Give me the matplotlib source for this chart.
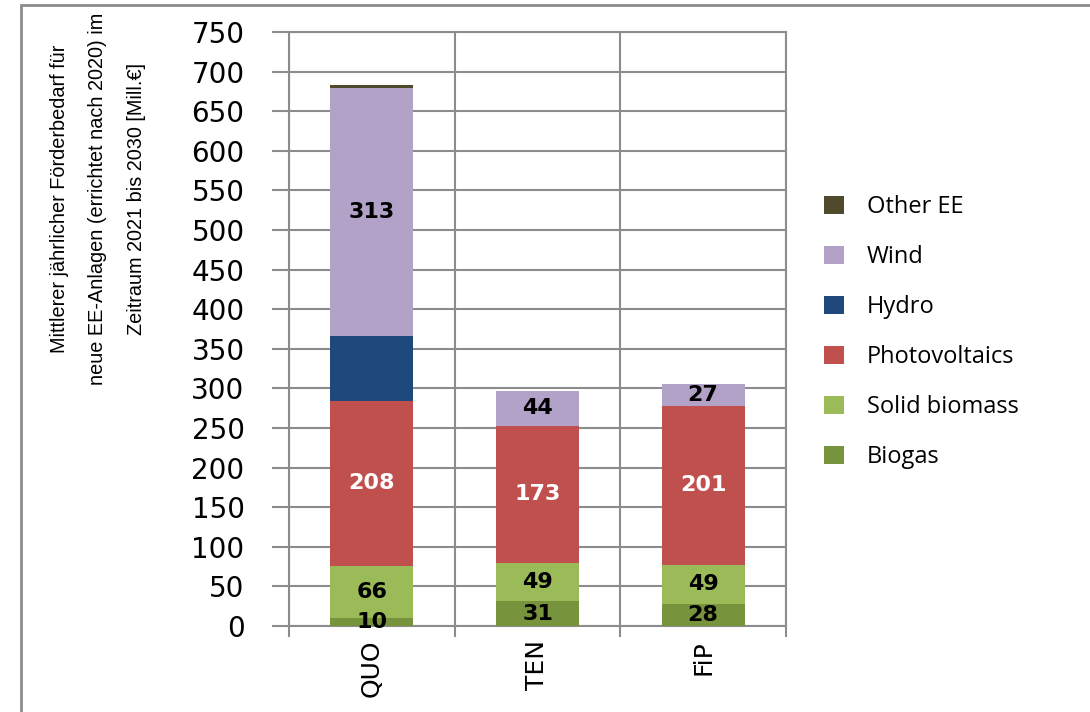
import numpy as np
import matplotlib
matplotlib.use("Agg")
from matplotlib import pyplot as plt
from matplotlib import font_manager
from matplotlib.patches import Rectangle

# scenarios and yearly support demand per technology [Mill. EUR]
scenarios = ["QUO", "TEN", "FiP"]
technologies = ["Biogas", "Solid biomass", "Photovoltaics", "Hydro", "Wind", "Other EE"]
biogas = [10, 31, 28]
solid_biomass = [66, 49, 49]
photovoltaics = [208, 173, 201]
hydro = [82, 0, 0]
wind = [313, 44, 27]
other_ee = [4, 0, 0]
# segments that carry a value label
labelled = ["Biogas", "Solid biomass", "Photovoltaics", "Wind"]

colors = {
    "Biogas": "#77933C",
    "Solid biomass": "#9BBB59",
    "Photovoltaics": "#C0504D",
    "Hydro": "#1F497D",
    "Wind": "#B3A2C7",
    "Other EE": "#4F4A2C",
}
label_colors = {"Photovoltaics": "white"}

series = [biogas, solid_biomass, photovoltaics, hydro, wind, other_ee]

available = {f.name for f in font_manager.fontManager.ttflist}
narrow = "Liberation Sans Narrow" if "Liberation Sans Narrow" in available else "Liberation Sans"

grid_col = "#8C8C8C"

fig = plt.figure(figsize=(10.9, 7.12), dpi=100)
ax = fig.add_axes([289 / 1090, 1 - 626 / 712, (786 - 289) / 1090, (626 - 32) / 712])

x = np.arange(len(scenarios))
bottom = np.zeros(len(scenarios))
handles = {}
for name, vals in zip(technologies, series):
    vals = np.array(vals, dtype=float)
    bars = ax.bar(x, vals, width=0.5, bottom=bottom, color=colors[name],
                  edgecolor="none", zorder=3)
    handles[name] = bars
    if name in labelled:
        for xi, b, v in zip(x, bottom, vals):
            if v > 0:
                ax.text(xi, b + v / 2, f"{v:.0f}", ha="center", va="center",
                        fontsize=16, fontweight="bold", family="DejaVu Sans",
                        color=label_colors.get(name, "black"), zorder=4)
    bottom += vals

ax.set_xlim(-0.5, 2.5)
ax.set_ylim(0, 750)
ax.set_yticks(np.arange(0, 751, 50))
ax.set_xticks([-0.5, 0.5, 1.5, 2.5])
ax.set_xticklabels([])
ax.set_xticks(x, minor=True)
ax.set_xticklabels(scenarios, minor=True, rotation=90, fontsize=18)
ax.tick_params(axis="x", which="minor", length=0, pad=10)
ax.tick_params(axis="x", which="major", length=8, width=1.5, color=grid_col)
ax.tick_params(axis="y", length=12, width=1.5, color=grid_col, labelsize=20, pad=20)
ax.grid(axis="y", color=grid_col, linewidth=1.5, zorder=0)
ax.grid(axis="x", which="major", color=grid_col, linewidth=1.5, zorder=0)
for s in ax.spines.values():
    s.set_color(grid_col)
    s.set_linewidth(1.5)

fig.text(98 / 1090, 1 - 199 / 712,
         "Mittlerer jährlicher Förderbedarf für\n"
         "neue EE-Anlagen (errichtet nach 2020) im\n"
         "Zeitraum 2021 bis 2030 [Mill.€]",
         rotation=90, ha="center", va="center", multialignment="center",
         fontsize=14.3, family=[narrow, "DejaVu Sans"], linespacing=2.3)

order = ["Other EE", "Wind", "Hydro", "Photovoltaics", "Solid biomass", "Biogas"]
fig.legend([handles[n] for n in order], order, loc="upper left",
           bbox_to_anchor=(803 / 1090, 1 - 174 / 712), frameon=False,
           prop={"family": "Open Sans", "size": 17},
           handlelength=0.85, handleheight=0.75, handletextpad=0.95,
           labelspacing=1.1)

# outer chart frame
fig.patches.append(Rectangle((21 / 1090, -0.1), 1.2, 1 - 5 / 712 + 0.1,
                             transform=fig.transFigure, fill=False,
                             edgecolor="#8C8C8C", linewidth=2))

fig.savefig("out.png", dpi=100)
